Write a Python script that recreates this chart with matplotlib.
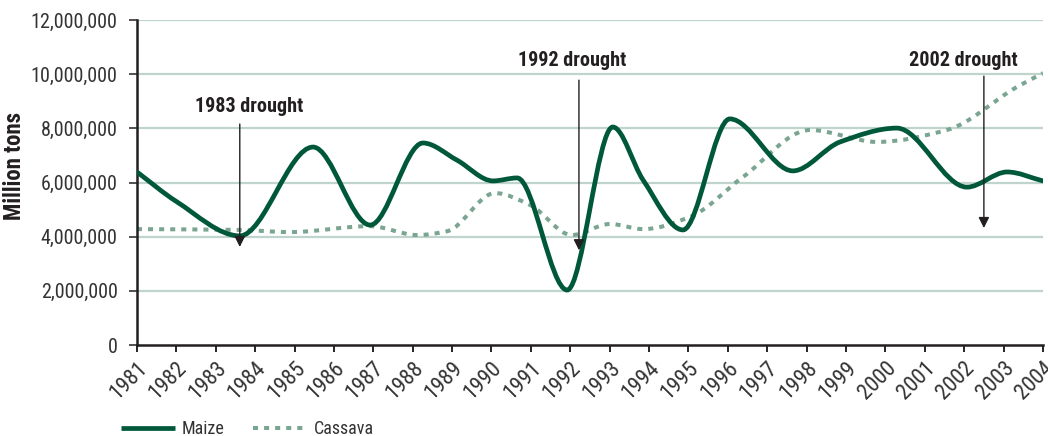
import numpy as np
import matplotlib
matplotlib.use("Agg")
import matplotlib.pyplot as plt
from matplotlib import font_manager
from matplotlib.path import Path
from matplotlib.patches import PathPatch
from matplotlib.lines import Line2D
from matplotlib.ticker import FuncFormatter

# curve knots (year, tons)
maize_year = [1981.0, 1982.0, 1983.61, 1985.47, 1986.92, 1988.26, 1989.12,
              1990.04, 1990.65, 1991.92, 1993.08, 1993.85, 1994.86, 1996.05,
              1997.65, 1998.85, 2000.29, 2002.07, 2003.09, 2004.0]
maize_tons = [6.39e6, 5.3e6, 4.03e6, 7.31e6, 4.43e6, 7.46e6, 6.83e6,
              6.06e6, 6.17e6, 2.03e6, 8.05e6, 6.09e6, 4.25e6, 8.35e6,
              6.43e6, 7.5e6, 8.01e6, 5.83e6, 6.39e6, 6.06e6]

cassava_year = [1981.0, 1983.61, 1984.88, 1986.92, 1988.11, 1988.87, 1990.09, 1990.98,
                1992.04, 1993.01, 1993.85, 1995.04, 1996.38, 1998.09, 1999.79,
                2001.56, 2003.34, 2004.0]
cassava_tons = [4.28e6, 4.25e6, 4.17e6, 4.39e6, 4.06e6, 4.2e6, 5.61e6, 5.17e6,
                4.06e6, 4.47e6, 4.28e6, 4.73e6, 6.2e6, 7.94e6, 7.5e6,
                7.94e6, 9.53e6, 10.04e6]

years = list(range(1981, 2005))
yticks = [0, 2e6, 4e6, 6e6, 8e6, 10e6, 12e6]

# drought markers
drought_labels = ['1983 drought', '1992 drought', '2002 drought']
drought_x = [1983.61, 1992.22, 2002.5]
drought_top = [8.16e6, 9.78e6, 9.93e6]
drought_tip = [3.62e6, 3.5e6, 4.32e6]
label_x = [1983.84, 1992.04, 2001.99]
label_y = [8.79e6, 10.49e6, 10.49e6]

maize_col = '#00583a'
cassava_col = '#7aa591'
grid_col = '#bfd4cc'
text_col = '#333333'


def pick_font(names):
    for n in names:
        try:
            font_manager.findfont(n, fallback_to_default=False)
            return n
        except Exception:
            pass
    return 'DejaVu Sans'


font = pick_font(['Roboto Condensed', 'Liberation Sans Narrow', 'Roboto'])
k = 1.0 if font != 'Roboto' else 0.88
plt.rcParams['font.family'] = [font, 'DejaVu Sans']


def smooth_path(xs, ys):
    # monotone cubic (pchip-like) bezier through the knots
    x = np.asarray(xs, float)
    y = np.asarray(ys, float)
    h = np.diff(x)
    d = np.diff(y) / h
    n = len(x)
    m = np.zeros(n)
    m[0], m[-1] = d[0], d[-1]
    for i in range(1, n - 1):
        if d[i - 1] * d[i] > 0:
            w1 = 2 * h[i] + h[i - 1]
            w2 = h[i] + 2 * h[i - 1]
            m[i] = (w1 + w2) / (w1 / d[i - 1] + w2 / d[i])
    verts = [(x[0], y[0])]
    codes = [Path.MOVETO]
    for i in range(n - 1):
        verts += [(x[i] + h[i] / 3, y[i] + m[i] * h[i] / 3),
                  (x[i + 1] - h[i] / 3, y[i + 1] - m[i + 1] * h[i] / 3),
                  (x[i + 1], y[i + 1])]
        codes += [Path.CURVE4] * 3
    return Path(verts, codes)


fig = plt.figure(figsize=(10.48, 4.36), dpi=100)
ax = fig.add_axes([0.1307, 0.2087, 0.8645, 0.7453])

for y in yticks[1:]:
    ax.axhline(y, color=grid_col, lw=1.6, zorder=0)

ax.add_patch(PathPatch(smooth_path(cassava_year, cassava_tons), fill=False,
                       edgecolor=cassava_col, lw=2.9, linestyle=(0, (1.25, 1.5)),
                       capstyle='butt', zorder=2))
ax.add_patch(PathPatch(smooth_path(maize_year, maize_tons), fill=False,
                       edgecolor=maize_col, lw=3.4, capstyle='round', zorder=3))

for lab, x, top, tip, lx, ly in zip(drought_labels, drought_x, drought_top,
                                    drought_tip, label_x, label_y):
    ax.annotate('', xy=(x, tip), xytext=(x, top),
                arrowprops=dict(arrowstyle='-|>', color='#231f20', lw=1,
                                mutation_scale=16, shrinkA=0, shrinkB=0), zorder=4)
    ax.text(lx, ly, lab, ha='center', va='center', fontsize=14.5 * k,
            fontweight='bold', color='#231f20')

ax.set_xlim(1981, 2004)
ax.set_ylim(0, 12e6)
ax.set_xticks(years)
ax.set_xticklabels([str(y) for y in years], rotation=45, ha='right', va='top',
                   rotation_mode='anchor', fontsize=16 * k, color=text_col)
ax.set_yticks(yticks)
ax.yaxis.set_major_formatter(FuncFormatter(lambda v, pos: f'{int(v):,}'))
ax.tick_params(axis='y', labelsize=14.5 * k, colors=text_col, length=6, width=1.2,
               direction='out', pad=8)
ax.tick_params(axis='x', length=5, width=1.2, direction='out', pad=4)
for t in ax.get_yticklabels():
    t.set_color(text_col)

for s in ['top', 'right']:
    ax.spines[s].set_visible(False)
ax.spines['left'].set_linewidth(1.8)
ax.spines['bottom'].set_linewidth(1.8)
ax.spines['left'].set_color('#231f20')
ax.spines['bottom'].set_color('#231f20')

ax.set_ylabel('Million tons', fontsize=16.5 * k, fontweight='bold', color='#231f20')
ax.yaxis.set_label_coords(-0.122, 0.551)

handles = [Line2D([], [], color=maize_col, lw=3.4, solid_capstyle='butt'),
           Line2D([], [], color=cassava_col, lw=2.9, linestyle=(0, (1.25, 1.5)),
                  dash_capstyle='butt')]
fig.legend(handles, ['Maize', 'Cassava'], loc='center left',
           bbox_to_anchor=(0.1, 0.016), ncol=2, frameon=False, fontsize=13 * k,
           handlelength=3.0, handletextpad=0.35, columnspacing=1.6,
           labelcolor=text_col)

fig.savefig('out.png', dpi=100)
